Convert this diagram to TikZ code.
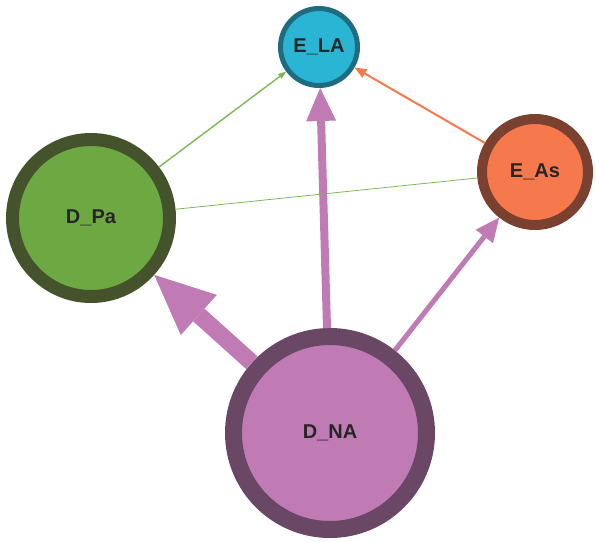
\documentclass[tikz,border=0pt]{standalone}
\usepackage{fontspec}
\setmainfont{Liberation Sans}
\usetikzlibrary{arrows.meta}
\usepackage{xcolor}

\definecolor{laFill}{HTML}{2AB5D5}
\definecolor{laLine}{HTML}{1F6B80}
\definecolor{paFill}{HTML}{6EA843}
\definecolor{paLine}{HTML}{45532C}
\definecolor{asFill}{HTML}{F5794D}
\definecolor{asLine}{HTML}{7A4030}
\definecolor{naFill}{HTML}{C07BB5}
\definecolor{naLine}{HTML}{6B4766}
\definecolor{paEdge}{HTML}{7CB856}

\begin{document}
\begin{tikzpicture}[x=1pt,y=-1pt,
					party/.style={circle, inner sep=0pt, font=\fontsize{20}{24}\selectfont\bfseries, text=black!85},
					flow/.style={color=naFill}]
    \useasboundingbox (0,0) rectangle (596,541);
    % Place nodes
    \node [party, fill=laFill, draw=laLine, line width=5pt, minimum size=77pt] (LA) at (319,47){E\_LA};
    \node [party, fill=paFill, draw=paLine, line width=13pt, minimum size=157pt] (PA) at (91,218){D\_Pa};
    \node [party, fill=asFill, draw=asLine, line width=10pt, minimum size=106pt] (AS) at (535,172){E\_As};
    \node [party, fill=naFill, draw=naLine, line width=17pt, minimum size=193pt] (NA) at (330,433){D\_NA};
    % Draw edges
    \draw[flow, line width=8pt, -{Triangle[length=33pt,width=30pt,line width=0pt]}] (NA) edge (LA);
    \draw[flow, line width=17pt, -{Triangle[length=60pt,width=54pt,line width=0pt]}] (NA) edge (PA);
    \draw[flow, line width=5pt, -{Triangle[length=24pt,width=22pt,line width=0pt]}] (NA) edge (AS);
    \draw[color=paEdge, line width=1.4pt, -{Triangle[length=8pt,width=6pt,line width=0pt]}] (PA) edge (LA);
    \draw[color=paEdge, line width=0.8pt] (PA) edge (AS);
    \draw[color=asFill, line width=2pt, -{Triangle[length=12pt,width=10pt,line width=0pt]}] (AS) edge (LA);
\end{tikzpicture}
\end{document}
